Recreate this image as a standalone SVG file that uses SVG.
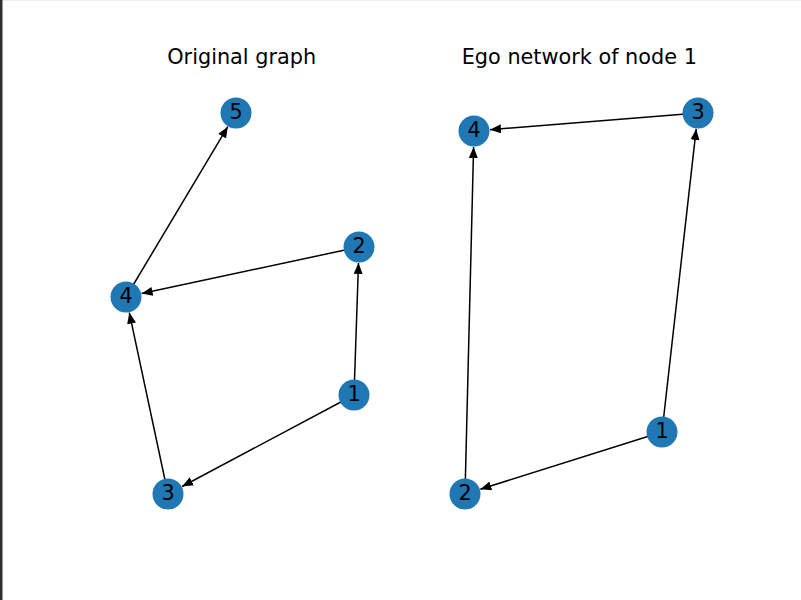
<svg xmlns="http://www.w3.org/2000/svg" width="801" height="600" viewBox="0 0 801 600">
<defs>
<style>
.edge{stroke:#000;stroke-width:1.5;fill:none;marker-end:url(#ah)}
.node{fill:#1f77b4}
.lbl{font-family:"DejaVu Sans",sans-serif;font-size:20.8px;fill:#000;text-anchor:middle}
.title{font-family:"DejaVu Sans",sans-serif;font-size:20.8px;fill:#000;text-anchor:middle}
</style>
<marker id="ah" markerUnits="userSpaceOnUse" markerWidth="13" markerHeight="11" refX="11" refY="4.5" orient="auto">
<path d="M0,0 L11,4.5 L0,9 Z" fill="#000"/>
</marker>
</defs>
<rect width="801" height="600" fill="#fff"/>
<rect x="0" y="0" width="801" height="1" fill="#ececec"/>
<rect x="0" y="0" width="2.5" height="600" fill="#2e2e2e"/>
<text class="title" x="241.7" y="64">Original graph</text>
<text class="title" x="579.3" y="64">Ego network of node 1</text>
<g id="connectors">
<line class="edge" x1="126" y1="297" x2="227.8" y2="126.7"/>
<line class="edge" x1="359" y1="247" x2="141.6" y2="293.6"/>
<line class="edge" x1="354" y1="395" x2="358.5" y2="263"/>
<line class="edge" x1="354" y1="395" x2="182.1" y2="486.5"/>
<line class="edge" x1="168" y1="494" x2="129.3" y2="312.6"/>
<line class="edge" x1="698" y1="113" x2="490" y2="129.7"/>
<line class="edge" x1="465" y1="494" x2="473.6" y2="147"/>
<line class="edge" x1="662" y1="432" x2="696.2" y2="128.9"/>
<line class="edge" x1="662" y1="432" x2="480.3" y2="489.2"/>
</g>
<g id="g1-node5"><circle class="node" cx="236" cy="113" r="15.5"/><text class="lbl" x="236" y="118.5">5</text></g>
<g id="g1-node4"><circle class="node" cx="126" cy="297" r="15.5"/><text class="lbl" x="126" y="302.5">4</text></g>
<g id="g1-node2"><circle class="node" cx="359" cy="247" r="15.5"/><text class="lbl" x="359" y="252.5">2</text></g>
<g id="g1-node1"><circle class="node" cx="354" cy="395" r="15.5"/><text class="lbl" x="354" y="400.5">1</text></g>
<g id="g1-node3"><circle class="node" cx="168" cy="494" r="15.5"/><text class="lbl" x="168" y="499.5">3</text></g>
<g id="g2-node4"><circle class="node" cx="474" cy="131" r="15.5"/><text class="lbl" x="474" y="136.5">4</text></g>
<g id="g2-node3"><circle class="node" cx="698" cy="113" r="15.5"/><text class="lbl" x="698" y="118.5">3</text></g>
<g id="g2-node1"><circle class="node" cx="662" cy="432" r="15.5"/><text class="lbl" x="662" y="437.5">1</text></g>
<g id="g2-node2"><circle class="node" cx="465" cy="494" r="15.5"/><text class="lbl" x="465" y="499.5">2</text></g>
</svg>
